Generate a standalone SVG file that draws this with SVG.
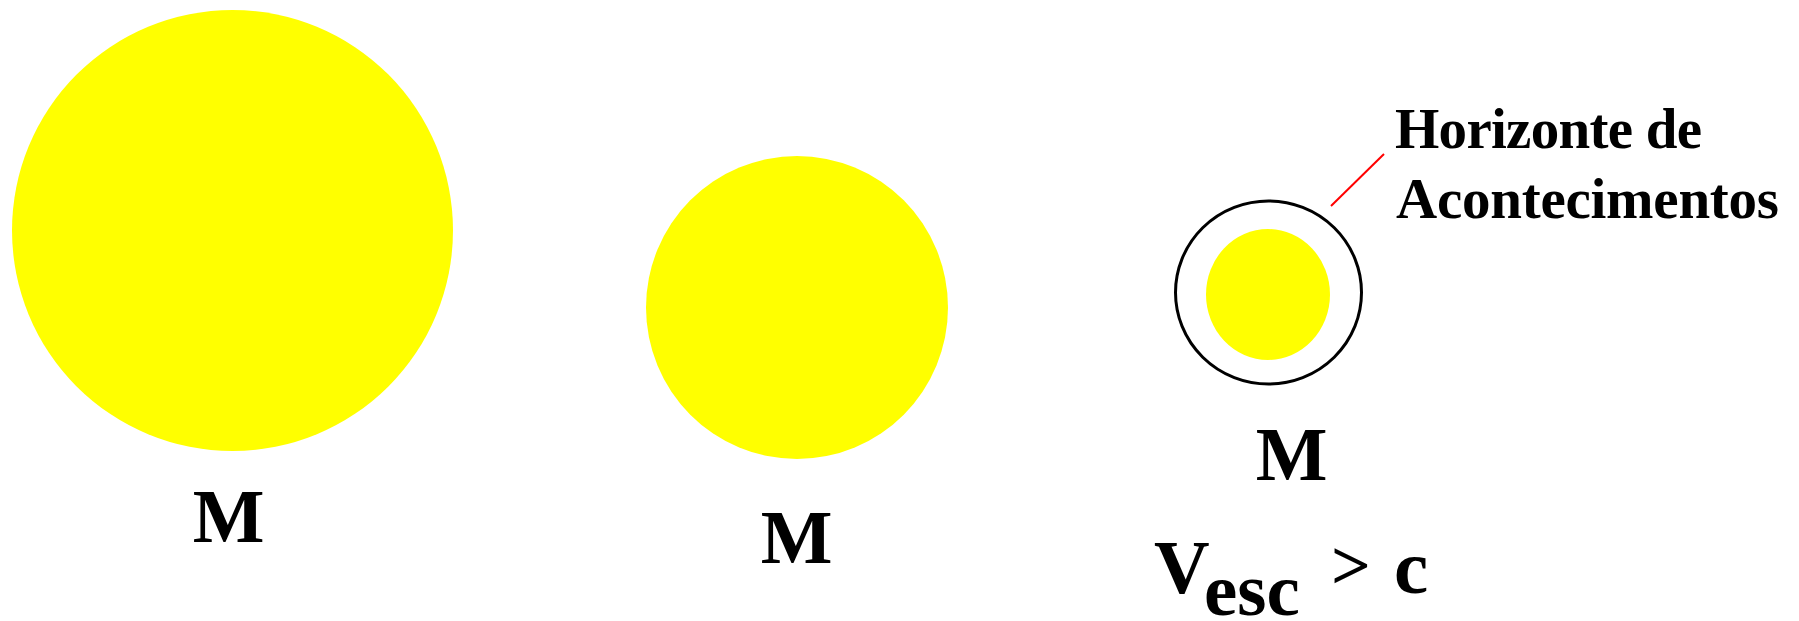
<svg xmlns="http://www.w3.org/2000/svg" width="1799" height="621" viewBox="0 0 1799 621">
<style>
.star{fill:#ffff00}
.lbl{font-family:"Liberation Serif","Times New Roman",serif;font-weight:bold;fill:#000}
</style>
<rect width="1799" height="621" fill="#fff"/>
<g id="star-large">
<circle class="star" cx="232.5" cy="230.5" r="220.5"/>
<text class="lbl" x="228.5" y="542" font-size="76" text-anchor="middle">M</text>
</g>
<g id="star-medium">
<ellipse class="star" cx="797" cy="307.5" rx="151" ry="151.5"/>
<text class="lbl" x="796.5" y="563" font-size="76" text-anchor="middle">M</text>
</g>
<g id="black-hole">
<ellipse cx="1268.5" cy="292.5" rx="93" ry="91.5" fill="none" stroke="#000" stroke-width="3"/>
<ellipse class="star" cx="1268" cy="294.5" rx="62" ry="65.5"/>
<text class="lbl" x="1291.5" y="480" font-size="76" text-anchor="middle">M</text>
</g>
<g id="connectors">
<line x1="1331" y1="206" x2="1384" y2="154" stroke="#ff0000" stroke-width="2"/>
</g>
<g id="horizon-label">
<text class="lbl" x="1395" y="148" font-size="57" textLength="307" lengthAdjust="spacing">Horizonte de</text>
<text class="lbl" x="1396" y="218" font-size="57" textLength="383" lengthAdjust="spacing">Acontecimentos</text>
</g>
<g id="escape-velocity">
<text class="lbl" x="1154" y="593" font-size="77">V</text>
<text class="lbl" x="1204" y="615" font-size="75">esc</text>
<text class="lbl" x="1331" y="589" font-size="70">&gt;</text>
<text class="lbl" x="1394" y="593" font-size="77">c</text>
</g>
</svg>
